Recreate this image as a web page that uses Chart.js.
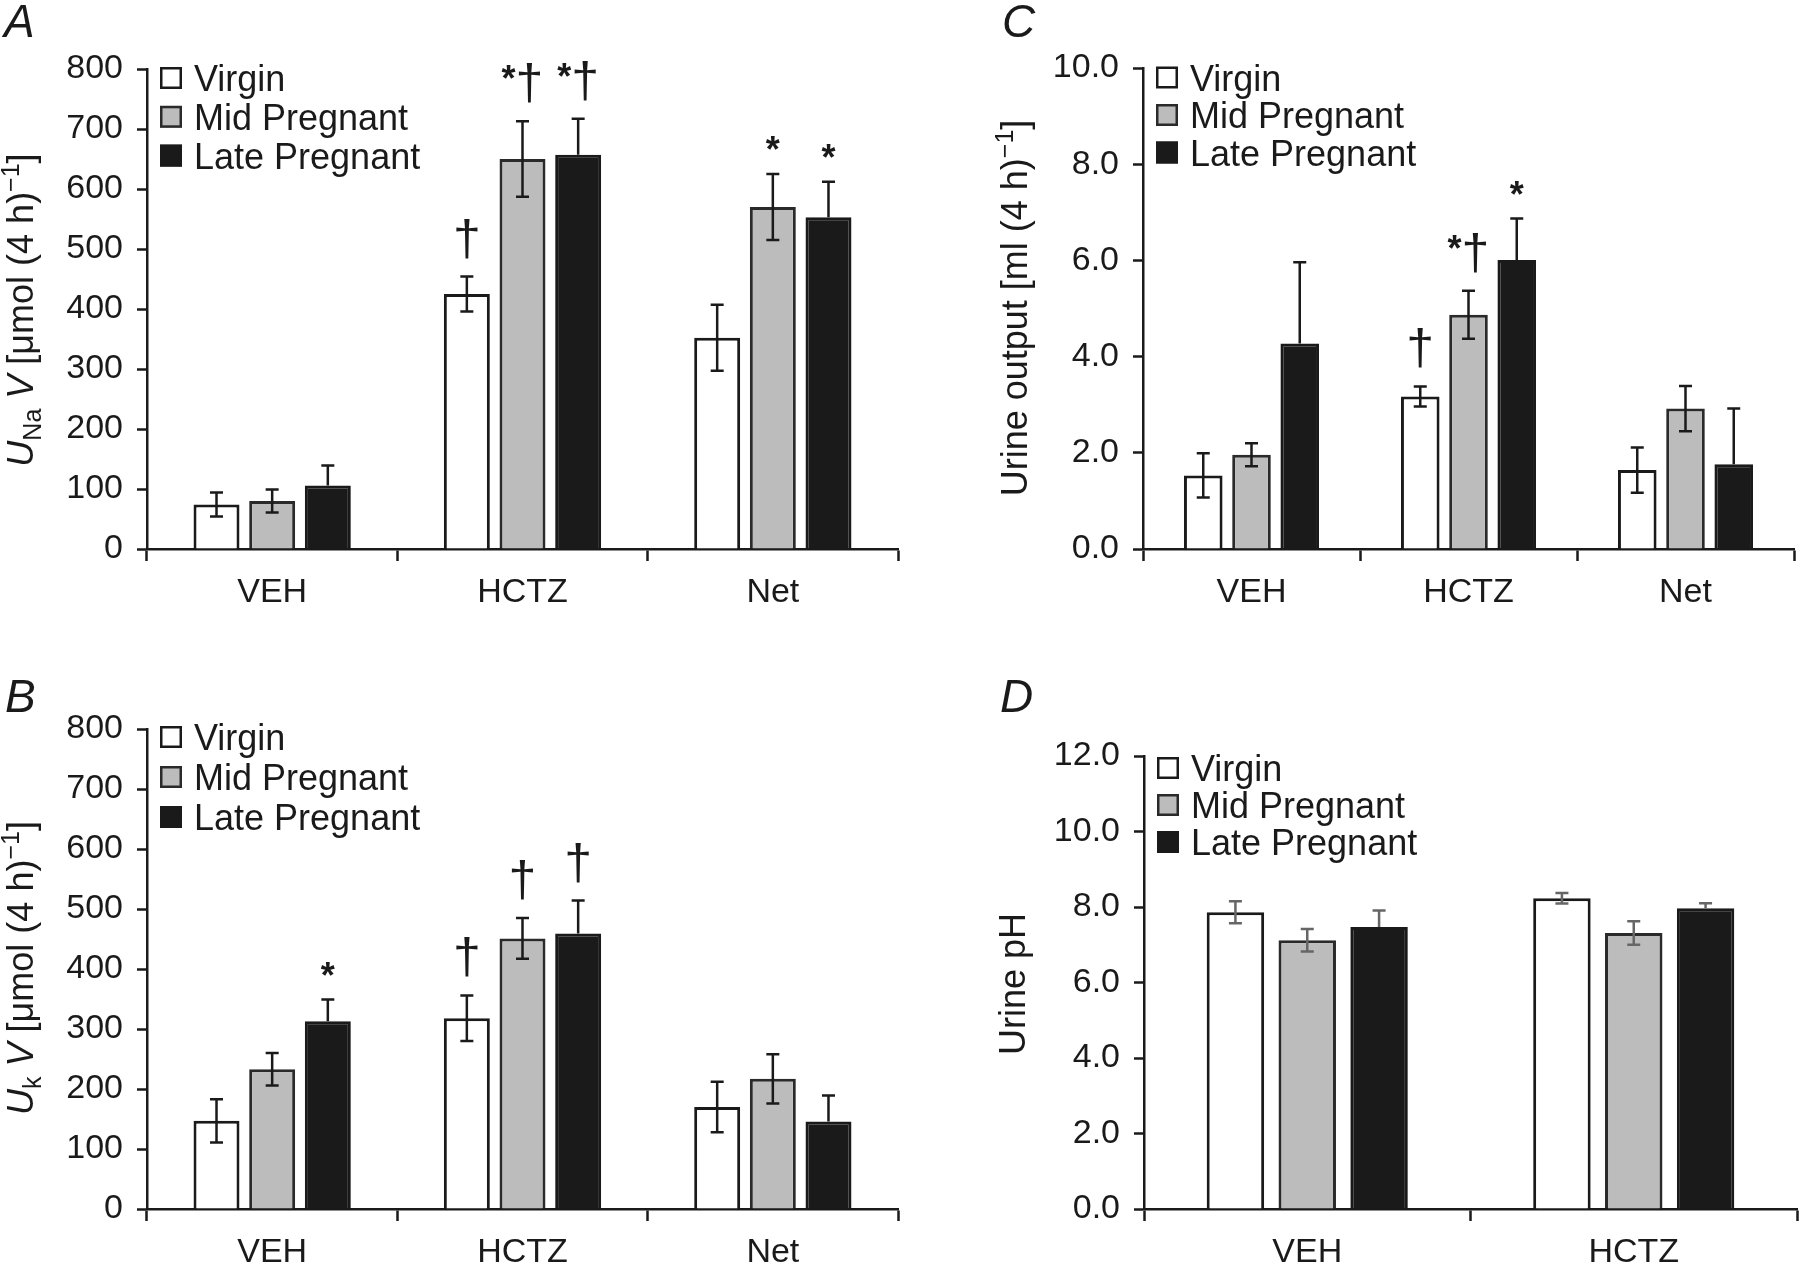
<!DOCTYPE html>
<html>
<head>
<meta charset="utf-8">
<script src="https://cdn.jsdelivr.net/npm/chart.js@4.4.1/dist/chart.umd.min.js"></script>
<style>
  html, body { margin: 0; padding: 0; background: #fff; }
  #wrap { position: relative; width: 1800px; height: 1266px; background: #fff; }
  #wrap canvas { position: absolute; }
</style>
</head>
<body>
<div id="wrap">
  <canvas id="chart-a" width="900" height="640" style="left:0;top:0"></canvas>
  <canvas id="chart-c" width="900" height="640" style="left:900px;top:0"></canvas>
  <canvas id="chart-b" width="900" height="626" style="left:0;top:640px"></canvas>
  <canvas id="chart-d" width="900" height="626" style="left:900px;top:640px"></canvas>
</div>
<script>
const groups = ['Virgin', 'Mid Pregnant', 'Late Pregnant'];
const catsThree = ['VEH', 'HCTZ', 'Net'];
const catsTwo = ['VEH', 'HCTZ'];

// A - UNa V, µmol (4 h)-1
const naVirgin = [74, 425, 352];
const naMid = [80, 650, 570];
const naLate = [106, 657, 553];
const naVirginErr = [20, 29, 55];
const naMidErr = [19, 63, 55];
const naLateErr = [33, 60, 59];
const naMarks = [['', '†', ''], ['', '*†', '*'], ['', '*†', '*']];

// B - UK V, µmol (4 h)-1
const kVirgin = [147, 318, 170];
const kMid = [233, 451, 217];
const kLate = [313, 459, 146];
const kVirginErr = [36, 38, 42];
const kMidErr = [27, 34, 41];
const kLateErr = [36, 55, 43];
const kMarks = [['', '†', ''], ['', '†', ''], ['*', '†', '']];

// C - urine output, ml (4 h)-1
const volVirgin = [1.53, 3.17, 1.64];
const volMid = [1.96, 4.87, 2.92];
const volLate = [4.27, 6.01, 1.76];
const volVirginErr = [0.46, 0.21, 0.47];
const volMidErr = [0.24, 0.50, 0.47];
const volLateErr = [1.69, 0.86, 1.16];
const volMarks = [['', '†', ''], ['', '*†', ''], ['', '*', '']];

// D - urine pH
const phVirgin = [7.86, 8.23];
const phMid = [7.12, 7.31];
const phLate = [7.47, 7.97];
const phVirginErr = [0.29, 0.14];
const phMidErr = [0.30, 0.31];
const phLateErr = [0.44, 0.13];

const FONT = "'Liberation Sans', Arial, Helvetica, sans-serif";
const ink = '#1a1a1a';
const fills = ['#ffffff', '#bcbcbc', '#1a1a1a'];
const edges = ['#1a1a1a', '#2a2a2a', '#1a1a1a'];

function drawMark(ctx, mark, x, yTop) {
  const parts = [...mark].map((ch) => {
    const font = ch === '†' ? `50px ${FONT}` : `bold 36px ${FONT}`;
    ctx.font = font;
    const m = ctx.measureText(ch);
    return { ch, font, w: m.width, asc: m.actualBoundingBoxAscent, desc: m.actualBoundingBoxDescent };
  });
  const total = parts.reduce((s, p) => s + p.w, 0);
  const dagger = parts.find((p) => p.ch === '†');
  const bottom = yTop - (dagger ? 18 : 24);
  const daggerTop = dagger ? bottom - dagger.desc - dagger.asc : 0;
  let cx = x - total / 2;
  ctx.fillStyle = ink;
  ctx.textAlign = 'left';
  ctx.textBaseline = 'alphabetic';
  parts.forEach((p) => {
    ctx.font = p.font;
    let base;
    if (p.ch === '†') base = bottom - p.desc;
    else if (dagger) base = daggerTop + 2 + p.asc;
    else base = bottom - p.desc;
    ctx.fillText(p.ch, cx, base);
    cx += p.w;
  });
}

function drawTitle(ctx, segs, x, y) {
  ctx.save();
  ctx.translate(x, y);
  ctx.rotate(-Math.PI / 2);
  ctx.fillStyle = ink;
  ctx.textAlign = 'left';
  ctx.textBaseline = 'alphabetic';
  const sized = segs.map((s) => {
    const size = s.small ? 25 : 36;
    const font = `${s.italic ? 'italic ' : ''}${size}px ${FONT}`;
    ctx.font = font;
    return { ...s, font, w: ctx.measureText(s.t).width };
  });
  let cx = -sized.reduce((a, s) => a + s.w, 0) / 2;
  sized.forEach((s) => {
    ctx.font = s.font;
    ctx.fillText(s.t, cx, s.dy || 0);
    cx += s.w;
  });
  ctx.restore();
}

const decor = {
  id: 'decor',
  afterDatasetsDraw(chart, args, opts) {
    const ctx = chart.ctx;
    const yScale = chart.scales.y;
    opts.errs.forEach((errs, i) => {
      const meta = chart.getDatasetMeta(i);
      const vals = chart.data.datasets[i].data;
      meta.data.forEach((bar, j) => {
        const top = yScale.getPixelForValue(vals[j] + errs[j]);
        const bot = i === 2 ? bar.y : yScale.getPixelForValue(vals[j] - errs[j]);
        ctx.save();
        ctx.strokeStyle = opts.errColor;
        ctx.lineWidth = 2.5;
        ctx.beginPath();
        ctx.moveTo(bar.x, top);
        ctx.lineTo(bar.x, bot);
        ctx.moveTo(bar.x - 6.5, top);
        ctx.lineTo(bar.x + 6.5, top);
        if (i !== 2) {
          ctx.moveTo(bar.x - 6.5, bot);
          ctx.lineTo(bar.x + 6.5, bot);
        }
        ctx.stroke();
        ctx.restore();
        const mark = opts.marks ? opts.marks[i][j] : '';
        if (mark) drawMark(ctx, mark, bar.x, top);
      });
    });
  },
  afterDraw(chart, args, opts) {
    const ctx = chart.ctx;
    const { left, top } = chart.chartArea;
    ctx.save();
    // legend
    chart.data.datasets.forEach((ds, i) => {
      const bx = left + 13;
      const by = top + opts.legendDy + i * opts.legendGap;
      ctx.fillStyle = ds.backgroundColor;
      ctx.fillRect(bx, by, 22, 22);
      ctx.strokeStyle = ds.borderColor;
      ctx.lineWidth = 2.5;
      ctx.strokeRect(bx + 1.25, by + 1.25, 19.5, 19.5);
      ctx.fillStyle = ink;
      ctx.font = `36px ${FONT}`;
      ctx.textAlign = 'left';
      ctx.textBaseline = 'alphabetic';
      ctx.fillText(ds.label, bx + 34, by + 24);
    });
    // panel letter
    ctx.font = `italic 46px ${FONT}`;
    ctx.fillStyle = ink;
    ctx.fillText(opts.letter, opts.letterX, opts.letterY);
    ctx.restore();
    drawTitle(ctx, opts.title, opts.titleX, opts.titleY);
  },
};

function makeChart(id, labels, series, errs, marks, o) {
  return new Chart(document.getElementById(id), {
    type: 'bar',
    data: {
      labels,
      datasets: series.map((data, i) => ({
        label: groups[i],
        data,
        backgroundColor: fills[i],
        borderColor: edges[i],
        borderWidth: 3,
        categoryPercentage: o.catPct,
        barPercentage: o.barPct,
      })),
    },
    options: {
      responsive: false,
      animation: false,
      devicePixelRatio: 1,
      layout: { padding: o.pad },
      plugins: {
        legend: { display: false },
        tooltip: { enabled: false },
        decor: {
          errs, marks, errColor: o.errColor || ink,
          legendDy: o.legendDy, legendGap: o.legendGap,
          letter: o.letter, letterX: o.letterX, letterY: o.letterY,
          title: o.title, titleX: o.titleX, titleY: o.titleY,
        },
      },
      scales: {
        x: {
          grid: { offset: true, drawOnChartArea: false, tickLength: 12, tickWidth: 2.5, tickColor: ink },
          border: { color: ink, width: 2.5 },
          ticks: { font: { family: FONT, size: 34 }, color: ink, padding: 11 },
          afterFit: (s) => { s.height = o.xh; },
        },
        y: {
          min: 0,
          max: o.max,
          grid: { drawOnChartArea: false, tickLength: 10, tickWidth: 2.5, tickColor: ink },
          border: { color: ink, width: 2.5 },
          ticks: {
            stepSize: o.step,
            font: { family: FONT, size: 34 },
            color: ink,
            padding: 14,
            callback: (v) => (o.decimals ? Number(v).toFixed(1) : String(v)),
          },
          afterFit: (s) => { s.width = o.yw; },
        },
      },
    },
    plugins: [decor],
  });
}

makeChart('chart-a', catsThree, [naVirgin, naMid, naLate], [naVirginErr, naMidErr, naLateErr], naMarks, {
  catPct: 0.667, barPct: 0.826, max: 800, step: 100, decimals: false,
  pad: { top: 69, right: 2, left: 0, bottom: 0 }, yw: 147, xh: 91,
  legendDy: -2, legendGap: 38.8,
  letter: 'A', letterX: 4, letterY: 37,
  title: [{ t: 'U', italic: true }, { t: 'Na', small: true, dy: 8 }, { t: ' ' }, { t: 'V', italic: true },
    { t: ' [μmol (4 h)' }, { t: '−1', small: true, dy: -14 }, { t: ']' }],
  titleX: 33, titleY: 310,
});

makeChart('chart-b', catsThree, [kVirgin, kMid, kLate], [kVirginErr, kMidErr, kLateErr], kMarks, {
  catPct: 0.667, barPct: 0.826, max: 800, step: 100, decimals: false,
  pad: { top: 89, right: 2, left: 0, bottom: 0 }, yw: 147, xh: 57,
  legendDy: -3, legendGap: 40,
  letter: 'B', letterX: 5, letterY: 72,
  title: [{ t: 'U', italic: true }, { t: 'k', small: true, dy: 8 }, { t: ' ' }, { t: 'V', italic: true },
    { t: ' [μmol (4 h)' }, { t: '−1', small: true, dy: -14 }, { t: ']' }],
  titleX: 33, titleY: 328,
});

makeChart('chart-c', catsThree, [volVirgin, volMid, volLate], [volVirginErr, volMidErr, volLateErr], volMarks, {
  catPct: 0.667, barPct: 0.8, max: 10, step: 2, decimals: true,
  pad: { top: 68, right: 6, left: 0, bottom: 0 }, yw: 243, xh: 91,
  legendDy: -1.5, legendGap: 37.5,
  letter: 'C', letterX: 102, letterY: 37,
  title: [{ t: 'Urine output [ml (4 h)' }, { t: '−1', small: true, dy: -14 }, { t: ']' }],
  titleX: 127, titleY: 308,
});

makeChart('chart-d', catsTwo, [phVirgin, phMid, phLate], [phVirginErr, phMidErr, phLateErr], null, {
  catPct: 0.66, barPct: 0.8, max: 12, step: 2, decimals: true, errColor: '#666666',
  pad: { top: 116, right: 3, left: 0, bottom: 0 }, yw: 244, xh: 57,
  legendDy: 1, legendGap: 37,
  letter: 'D', letterX: 100, letterY: 72,
  title: [{ t: 'Urine pH' }],
  titleX: 125, titleY: 344,
});
</script>
</body>
</html>
